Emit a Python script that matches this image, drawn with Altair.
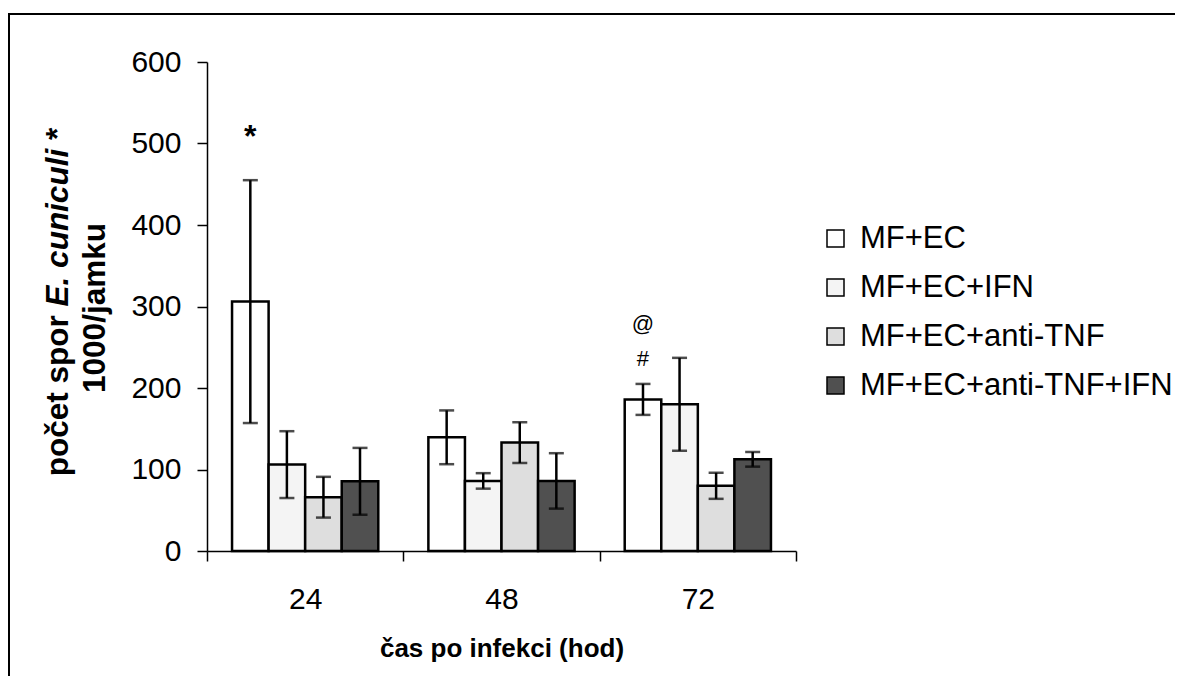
import altair as alt
import pandas as pd

groups = ["24", "48", "72"]
series = ["MF+EC", "MF+EC+IFN", "MF+EC+anti-TNF", "MF+EC+anti-TNF+IFN"]
fills = ["#ffffff", "#f4f4f4", "#dedede", "#505050"]

means = {
    "MF+EC": [306, 139.5, 186],
    "MF+EC+IFN": [106, 86, 180],
    "MF+EC+anti-TNF": [66, 133, 80],
    "MF+EC+anti-TNF+IFN": [85.5, 86, 112.5],
}
errors = {
    "MF+EC": [149, 33, 19],
    "MF+EC+IFN": [41, 9.5, 57],
    "MF+EC+anti-TNF": [25, 25, 16],
    "MF+EC+anti-TNF+IFN": [41, 34, 9],
}

ann_group = ["24", "72", "72"]
ann_series = ["MF+EC", "MF+EC", "MF+EC"]
ann_value = [496, 270, 227]
ann_text = ["*", "@", "#"]

# y-axis title pieces (bold, with italic species name)
ytitle_parts = ["počet spor", "E. cuniculi", "*"]
ytitle_line2 = "1000/jamku"

rows = []
for s in series:
    for g, m, e in zip(groups, means[s], errors[s]):
        rows.append({"time": g, "series": s, "mean": m, "lo": m - e, "hi": m + e})
df = pd.DataFrame(rows)
ann = pd.DataFrame({"time": ann_group, "series": ann_series, "v": ann_value, "t": ann_text})

W, H = 589, 489
PL, PT, PR, PB = 199, 54, 379, 125
FONT = "Liberation Sans"
TFS = 31.5

x = alt.X("time:N", scale=alt.Scale(domain=groups, paddingInner=0, paddingOuter=0),
          axis=alt.Axis(title="čas po infekci (hod)", labelAngle=0, tickBand="extent", grid=False,
                        labelFontSize=30, labelPadding=23, titleFontSize=26,
                        titleFontWeight="bold", titlePadding=21))
xo = alt.XOffset("series:N", scale=alt.Scale(domain=series, paddingInner=0, paddingOuter=0.685))
yscale = alt.Scale(domain=[0, 600])
yaxis = alt.Axis(title=None, values=[0, 100, 200, 300, 400, 500, 600], grid=False,
                 labelFontSize=30, labelPadding=16)

base = alt.Chart(df)

bars = base.mark_bar(stroke="black", strokeWidth=2.5).encode(
    x=x, xOffset=xo,
    y=alt.Y("mean:Q", scale=yscale, axis=yaxis),
    color=alt.Color("series:N", scale=alt.Scale(domain=series, range=fills),
                    legend=alt.Legend(title=None, orient="none", legendX=613, legendY=161,
                                      labelFontSize=31, labelFont=FONT, symbolType="square",
                                      symbolSize=289, symbolStrokeColor="black",
                                      symbolStrokeWidth=1.5, labelOffset=9, rowPadding=17,
                                      labelColor="black", labelLimit=0)),
)

err = base.mark_rule(color="black", strokeWidth=2.5).encode(
    x=x, xOffset=xo, y=alt.Y("lo:Q", scale=yscale, axis=yaxis), y2="hi:Q")
cap_lo = base.mark_tick(color="black", size=15, thickness=2.5).encode(
    x=x, xOffset=xo, y=alt.Y("lo:Q", scale=yscale, axis=yaxis))
cap_hi = base.mark_tick(color="black", size=15, thickness=2.5).encode(
    x=x, xOffset=xo, y=alt.Y("hi:Q", scale=yscale, axis=yaxis))

txt_star = alt.Chart(ann[ann.t == "*"]).mark_text(fontSize=32, fontWeight="bold", font=FONT,
                                                  baseline="alphabetic", color="black").encode(
    x=x, xOffset=xo, y=alt.Y("v:Q", scale=yscale, axis=yaxis), text="t:N")
txt_other = alt.Chart(ann[ann.t != "*"]).mark_text(fontSize=22, font=FONT,
                                                   baseline="alphabetic", color="black").encode(
    x=x, xOffset=xo, y=alt.Y("v:Q", scale=yscale, axis=yaxis), text="t:N")

one = pd.DataFrame({"k": [0]})

# y title, rotated, built from pieces (widths in em of Arial bold)
em = TFS
w_space = 0.278 * em
w_part1 = 5.112 * em
w_part2 = 5.002 * em
y_center = 302 - 62
total = w_part1 + w_space + w_part2 + w_space + 0.389 * em
y_start = y_center + total / 2
yt_x = -148.5
pos = [y_start, y_start - w_part1 - w_space, y_start - w_part1 - w_space - w_part2 - w_space]
styles = ["normal", "italic", "normal"]
ytitle_layers = []
for txt, py, st in zip(ytitle_parts, pos, styles):
    ytitle_layers.append(
        alt.Chart(one).mark_text(font=FONT, fontSize=TFS, fontWeight="bold", fontStyle=st,
                                 angle=270, align="left", baseline="middle", color="black").encode(
            x=alt.value(yt_x), y=alt.value(py), text=alt.value(txt)))
ytitle_layers.append(
    alt.Chart(one).mark_text(font=FONT, fontSize=TFS, fontWeight="bold",
                             angle=270, align="center", baseline="middle", color="black").encode(
        x=alt.value(-111), y=alt.value(308 - 62), text=alt.value(ytitle_line2)))

frame_left = alt.Chart(one).mark_rule(color="black", strokeWidth=2).encode(
    x=alt.value(-198), y=alt.value(-48), y2=alt.value(H + PB))
frame_top = alt.Chart(one).mark_rule(color="black", strokeWidth=2).encode(
    x=alt.value(-199), x2=alt.value(W + PR), y=alt.value(-48))

chart = alt.layer(bars, err, cap_lo, cap_hi, txt_star, txt_other, *ytitle_layers,
                  frame_left, frame_top).properties(
    width=W, height=H,
    background="white",
    autosize=alt.AutoSizeParams(type="none"),
    padding={"left": PL, "top": PT, "right": PR, "bottom": PB},
).configure_view(stroke=None, strokeWidth=0).configure_axis(
    grid=False,
    domainColor="black", domainWidth=1.5, tickColor="black", tickSize=10,
    tickWidth=1.5, labelColor="black", titleColor="black", labelFont=FONT, titleFont=FONT,
)

chart.save("out.html", embed_options={"renderer": "svg", "actions": False})
